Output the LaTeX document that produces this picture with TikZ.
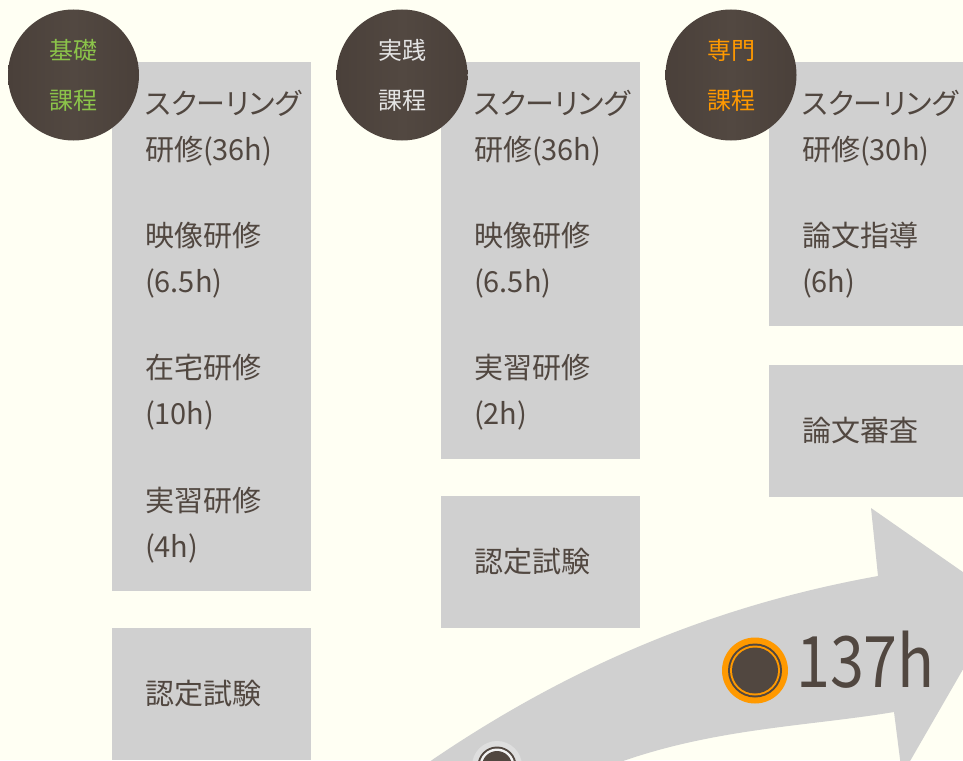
\documentclass[tikz,border=0pt]{standalone}
\usepackage{fontspec}
\usepackage{graphicx}
\setmainfont{Noto Sans CJK JP}[RawFeature=+palt]
\definecolor{cream}{HTML}{FFFFF3}
\definecolor{boxgray}{HTML}{D0D0D0}
\definecolor{ink}{HTML}{514740}
\definecolor{badgemid}{HTML}{524841}
\definecolor{badgeedge}{HTML}{4A403A}
\definecolor{kisogreen}{HTML}{8BC34A}
\definecolor{jissenlight}{HTML}{E4E4E4}
\definecolor{accent}{HTML}{FF9900}
\definecolor{halo}{HTML}{DEDEDE}
\definecolor{ringgap}{HTML}{F2F2F2}
\begin{document}
\begin{tikzpicture}[x=1pt, y=-1pt,
  item/.style={fill=boxgray, draw=boxgray, line width=0.8pt, text=ink,
    minimum height=131.5pt, text width=132pt, inner xsep=33pt, inner ysep=0pt,
    align=left, font=\fontsize{29}{46}\selectfont},
  badge/.style={circle, minimum size=131pt, inner sep=0pt, align=center,
    left color=badgeedge, right color=badgeedge, middle color=badgemid,
    font=\fontsize{24}{50}\selectfont},
  dot/.style={circle, inner sep=0pt}]
  \useasboundingbox (0,0) rectangle (963,760);
  \clip (0,0) rectangle (963,760);
  \fill[cream] (0,0) rectangle (963,760);
  % columns
  \node[item] (k1) at (211,127.75) {スクーリング\\研修(36h)};
  \node[item, anchor=north] (k2) at (k1.south) {映像研修\\(6.5h)};
  \node[item, anchor=north] (k3) at (k2.south) {在宅研修\\(10h)};
  \node[item, anchor=north] (k4) at (k3.south) {実習研修\\(4h)};
  \node[item] (k5) at (211,693.75) {認定試験};
  \node[item] (j1) at (540,127.75) {スクーリング\\研修(36h)};
  \node[item, anchor=north] (j2) at (j1.south) {映像研修\\(6.5h)};
  \node[item, anchor=north] (j3) at (j2.south) {実習研修\\(2h)};
  \node[item] (j4) at (540,561.75) {認定試験};
  \node[item] (s1) at (868,127.75) {スクーリング\\研修(30h)};
  \node[item, anchor=north] (s2) at (s1.south) {論文指導\\(6h)};
  \node[item] (s3) at (868,430.75) {論文審査};
  % badges
  \node[badge, text=kisogreen] (bk) at (73.5,75) {基礎\\課程};
  \node[badge, text=jissenlight] (bj) at (402,75) {実践\\課程};
  \node[badge, text=accent] (bs) at (731,75) {専門\\課程};
  % arrow
  \fill[boxgray] (388,790) -- (432,760) .. controls (582,658) and (728,603) .. (878,576)
    -- (871,508) -- (1003,600) -- (902,775) -- (894,712)
    .. controls (810,726) and (720,728) .. (626,760) -- (538,790) -- cycle;
  \node[dot, fill=halo, minimum size=50pt] (st) at (497,766) {};
  \fill[ink] (st.center) circle (19.5pt);
  \fill[ringgap] (st.center) circle (17.5pt);
  \fill[ink] (st.center) circle (15pt);
  \node[dot, fill=accent, minimum size=66pt] (mk) at (755,670.5) {};
  \fill[ink] (mk.center) circle (27pt);
  \fill[accent] (mk.center) circle (25pt);
  \fill[ink] (mk.center) circle (23pt);
  \node[anchor=base west, inner sep=0pt, text=ink, font=\fontsize{71}{71}\selectfont]
    (hrs) at (796,687) {\scalebox{0.86}[1]{137h}};
\end{tikzpicture}
\end{document}
